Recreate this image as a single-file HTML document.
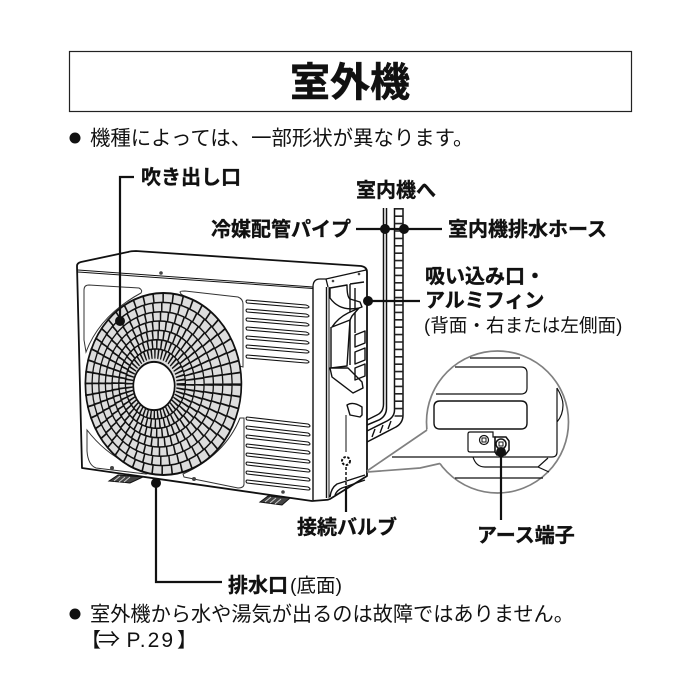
<!DOCTYPE html>
<html lang="ja"><head><meta charset="utf-8"><title>室外機</title>
<style>
html,body{margin:0;padding:0;background:#fff}
svg{display:block}
text{font-family:"Liberation Sans","Noto Sans CJK JP",sans-serif;fill:#111}
.b{font-weight:700;font-size:20px;stroke:#111;stroke-width:.35px}
.n{font-size:20.2px}
</style></head><body>
<svg width="700" height="700" viewBox="0 0 700 700" xmlns="http://www.w3.org/2000/svg">
<rect x="69.5" y="51.5" width="562" height="60" fill="#fff" stroke="#222" stroke-width="1.2"/>
<text x="350" y="96" text-anchor="middle" font-size="40" font-weight="700" style="stroke:#111;stroke-width:.5px">室外機</text>
<circle cx="75" cy="138" r="5.5" fill="#111"/>
<text class="n" x="90" y="145" style="font-size:20.4px">機種によっては、一部形状が異なります。</text>

<!-- pipes -->
<g fill="none" stroke="#111" stroke-width="1.5">
<path d="M383.5 208V404Q383.5 412 377 415L367 420"/>
<path d="M386.5 208V408Q386.5 416 379 420L367 425"/>
<path d="M394.5 208V410Q394.5 417 387 421L367 431"/>
<path d="M403 208V415Q403 424 394 428L367 442"/>
<path d="M398.800 208V418" stroke-width="8.500" stroke-dasharray="1.600 5.800" stroke="#222"/>
<path d="M372 437L375 429M380 433L383 425M388 429L391 421" stroke-width="1.400"/>
</g>
<!-- unit -->
<path d="M77 266Q77 263 81 262L128 252Q131 251 136 251L361 266Q367 267 367 272V476L330 499Q328 500 325 500L312 501L82 468L77 266Z" fill="#fff" stroke="#111" stroke-width="1.8" stroke-linejoin="round"/>
<path d="M78 270L313 287M78 272L313 288.500" fill="none" stroke="#111" stroke-width="1"/>
<path d="M313 287Q313 279 320 279H326L366 270M326 279L328 287" fill="none" stroke="#111" stroke-width="1.3"/>
<path d="M313 287V500M326.500 287V498" fill="none" stroke="#111" stroke-width="1.4"/>
<path d="M329 287V498" fill="none" stroke="#111" stroke-width="1"/>
<!-- panels -->
<g fill="none" stroke="#333" stroke-width="1">
<path d="M84 290Q84 285 89 285L139 288Q143 290 141 293Q100 315 86 352L84 340Z"/>
<path d="M180 292Q180 291 185 291L238 297Q243 299 243 304V367L239 366Q225 320 181 294Z"/>
<path d="M87 451Q88 465 96 468L146 474Q149 474 146 471Q110 460 87 430Z"/>
<path d="M184 477L238 488Q244 488 244 484V418L240 418Q225 455 183 474Z"/>
</g>
<!-- louvres -->
<g fill="none" stroke="#111" stroke-width="1.1">
<path d="M247 300L306 305Q309 306 309 307Q309 308 306 308L247 303Q245 301 247 300Z"/>
<path d="M247 309L306 314Q309 315 309 316Q309 317 306 317L247 312Q245 310 247 309Z"/>
<path d="M247 318L306 323Q309 324 309 325Q309 326 306 326L247 321Q245 319 247 318Z"/>
<path d="M247 327L306 332Q309 333 309 334Q309 335 306 335L247 330Q245 328 247 327Z"/>
<path d="M247 336L306 341Q309 342 309 343Q309 344 306 344L247 339Q245 337 247 336Z"/>
<path d="M247 345L306 350Q309 351 309 352Q309 353 306 353L247 348Q245 346 247 345Z"/>
<path d="M247 355L306 360Q309 361 309 362Q309 363 306 363L247 358Q245 356 247 355Z"/>
<path d="M247 417L308 424Q310 425 310 426Q310 427 308 427L247 420Q245 418 247 417Z"/>
<path d="M247 426L308 433Q310 434 310 435Q310 436 308 436L247 429Q245 427 247 426Z"/>
<path d="M247 435L308 442Q310 443 310 444Q310 445 308 445L247 438Q245 436 247 435Z"/>
<path d="M247 444L308 451Q310 452 310 453Q310 454 308 454L247 447Q245 445 247 444Z"/>
<path d="M247 453L308 460Q310 461 310 462Q310 463 308 463L247 456Q245 454 247 453Z"/>
<path d="M247 462L308 469Q310 470 310 471Q310 472 308 472L247 465Q245 463 247 462Z"/>
<path d="M247 471L308 478Q310 479 310 480Q310 481 308 481L247 474Q245 472 247 471Z"/>
<path d="M247 480L308 487Q310 488 310 489Q310 490 308 490L247 483Q245 481 247 480Z"/>
</g>
<!-- fan grille -->
<g transform="translate(163.400 384) scale(1 1.166)">
<circle r="78" fill="#ddd" stroke="#111" stroke-width="1.7"/>
<g fill="none" stroke="#111" stroke-width="1.3">
<circle cx="-1.3" r="70"/><circle cx="-2.6" r="62"/><circle cx="-4" r="54"/><circle cx="-5.300" r="46"/><circle cx="-6.600" r="38"/><circle cx="-8" r="30"/>
</g>
<g fill="none" stroke="#111" stroke-width="8.500">
<circle cx="-.6" r="74" pathLength="48" stroke-dasharray=".16 .84"/>
<circle cx="-2" r="66" pathLength="48" stroke-dasharray=".175 .825"/>
<circle cx="-3.300" r="58" pathLength="48" stroke-dasharray=".2 .8"/>
<circle cx="-4.600" r="50" pathLength="48" stroke-dasharray=".23 .77"/>
<circle cx="-6" r="42" pathLength="48" stroke-dasharray=".27 .73"/>
<circle cx="-7.300" r="34" pathLength="48" stroke-dasharray=".33 .67"/>
<circle cx="-8.600" r="26" pathLength="48" stroke-dasharray=".42 .58"/>
</g>
<circle cx="-9.400" cy="1.700" r="20.700" fill="#fff" stroke="#111" stroke-width="1.7"/>
</g>
<!-- screws, feet -->
<g fill="#444"><circle cx="161" cy="273" r="1.800"/><circle cx="333" cy="281" r="1.300"/><circle cx="359" cy="274" r="1.300"/><circle cx="112" cy="468" r="2"/><circle cx="194" cy="479" r="2"/><circle cx="283" cy="492" r="1.800"/></g>
<path d="M109 481L118 475L143 477L130 483Z" fill="#444" stroke="#111"/>
<path d="M260 502L268 496L290 498L282 505Z" fill="#444" stroke="#111"/>
<path d="M114 481L120 476M119 482L125 477M124 482L130 477M265 502L271 497M270 503L276 498M275 504L281 499" stroke="#ccc" stroke-width="1"/>
<!-- side details -->
<g fill="#fff" stroke="#111" stroke-width="1.400" stroke-linejoin="round">
<path d="M347 285Q347 297 350 299L360 302L362 307L359 308Q340 312 330 298V288Z"/>
<path d="M350 284L364 282M355 288V333M350 284V365" fill="none"/>
<path d="M332 327Q338 318 348 313L359 308L352 316L350 320L332 327Z"/>
<path d="M331 327V368L347 366L350 320" fill="none"/>
<path d="M330 368L348 368L362 382L363 388L353 393L332 377Z"/>
<path d="M347 405Q353 401 362 407V415L360 417L350 415Z"/>
<path d="M355 335L365 331V343L355 347ZM355 352L365 348V360L355 364ZM355 368L365 364V376L355 380Z" fill="none"/>
<path d="M346 415V452" fill="none" stroke-width="1"/>
<path d="M330 497Q331 488 337 484L365 475M335 495Q337 490 342 488L365 480" fill="none"/>
</g>
<circle cx="346" cy="461" r="4" fill="none" stroke="#111" stroke-width="2" stroke-dasharray="2.500 1.500"/>
<path d="M346 467V487" stroke="#111" stroke-width="1.500" stroke-dasharray="3 2"/>
<!-- zoom callout -->
<circle cx="497.500" cy="422" r="71" fill="#fff" stroke="#808080" stroke-width="1.700"/>
<path d="M367 471L428 429L442 463Q420 466 367 472Z" fill="#fff"/>
<path d="M367 471L427 430M367 472L420 468L440 463.500" fill="none" stroke="#808080" stroke-width="1.700"/>
<g fill="none" stroke="#111" stroke-width="1.200">
<path d="M470 358H520"/>
<path d="M455 367H521Q527 367 527 373V388Q527 394 521 394H436"/>
<path d="M440 401H521Q527 401 527 407V423Q527 429 521 429H440Q434 429 434 423V407Q434 401 440 401Z" stroke-width="1.400"/>
<path d="M557 388Q563 398 563 405Q563 415 557 422M557 388V452Q557 457 552 457H392"/>
<path d="M473 457Q476 467 485 467H538L548 458M538 467L549 472"/>
<path d="M455 478H543"/>
<path d="M470 432H493V437H495V452H470Q468 452 468 450V434Q468 432 470 432Z"/>
<path d="M495 437H506L509 441V450L505 455H497L495 452Z" stroke-width="1.500"/>
<circle cx="484" cy="440" r="4.500"/>
<rect x="482" y="438" width="4" height="4" stroke-width="1"/>
</g>
<circle cx="501" cy="444" r="5" fill="none" stroke="#111" stroke-width="1.500"/>
<rect x="499" y="442" width="4" height="4" fill="none" stroke="#111"/>

<!-- leader lines -->
<g fill="none" stroke="#111" stroke-width="2.200">
<path d="M120 321V177H134"/>
<path d="M356 229H442"/>
<path d="M368 301H420"/>
<path d="M156 483V582H222"/>
<path d="M346 487V512"/>
<path d="M501 452V520"/>
</g>
<g fill="#111">
<circle cx="120" cy="321" r="5"/><circle cx="368" cy="301" r="5"/><circle cx="156" cy="483" r="5"/>
<circle cx="385" cy="229" r="5"/><circle cx="404" cy="229" r="5"/><circle cx="501" cy="452" r="5"/>
</g>

<!-- labels -->
<text class="b" x="141" y="184">吹き出し口</text>
<text class="b" x="356" y="197">室内機へ</text>
<text class="b" x="211" y="236">冷媒配管パイプ</text>
<text class="b" x="448" y="236">室内機排水ホース</text>
<text class="b" x="425" y="283">吸い込み口・</text>
<text class="b" x="425" y="307">アルミフィン</text>
<text x="424" y="332" font-size="18.600">(背面・右または左側面)</text>
<text class="b" x="297" y="534">接続バルブ</text>
<text class="b" x="477" y="542">アース端子</text>
<text class="b" x="228" y="592">排水口</text>
<text x="290" y="592" font-size="19.500">(底面)</text>
<circle cx="75" cy="614" r="5.500" fill="#111"/>
<text class="n" x="90" y="621">室外機から水や湯気が出るのは故障ではありません。</text>
<text x="81" y="647" font-size="20">【</text>
<text x="98" y="647" font-size="22">⇒</text>
<text x="126.500" y="647" font-size="21" letter-spacing="2">P.29</text>
<text x="177" y="647" font-size="20">】</text>
</svg>
</body></html>
